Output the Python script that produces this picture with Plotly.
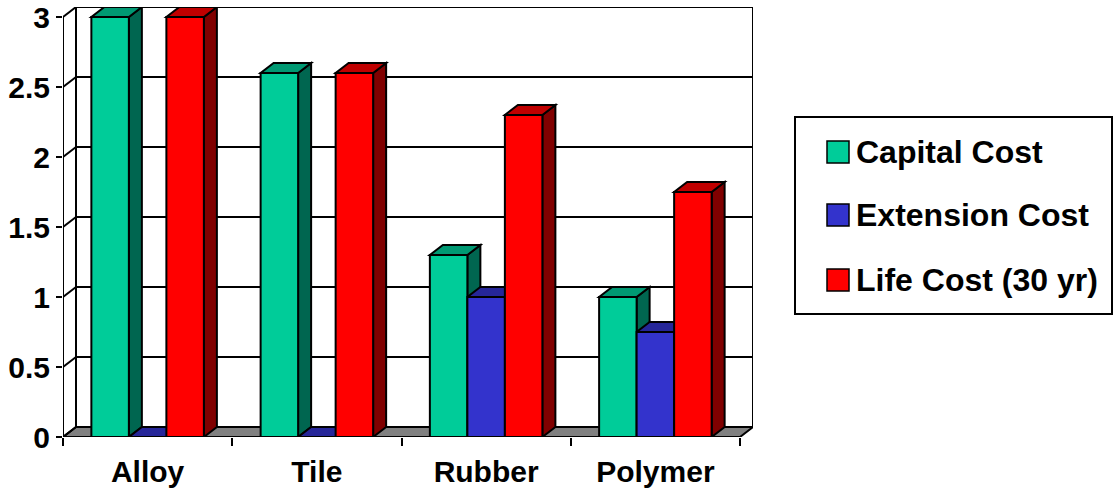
import plotly.graph_objects as go

# ---- data ----
categories = ["Alloy", "Tile", "Rubber", "Polymer"]
series_names = ["Capital Cost", "Extension Cost", "Life Cost (30 yr)"]
capital_cost = [3.0, 2.6, 1.3, 1.0]
extension_cost = [0.0, 0.0, 1.0, 0.75]
life_cost = [3.0, 2.6, 2.3, 1.75]
y_ticks = [0, 0.5, 1, 1.5, 2, 2.5, 3]

series_values = [capital_cost, extension_cost, life_cost]
front_colors = ["#00CC99", "#3333CC", "#FF0000"]
top_colors = ["#009973", "#262699", "#C00000"]
side_colors = ["#006650", "#1A1A66", "#800000"]

# ---- geometry (3D look) ----
W = 0.2216          # bar width (category units)
DX = 0.0768         # depth offset in x (category units)
DY = 0.0714         # depth offset in y (value units)
YMAX = 3.0
XL, XR = -0.5, len(categories) - 0.5

# figure pixel layout
FW, FH = 1114, 488
ML, MR, MT, MB = 63, 361, 7, 51
PW = FW - ML - MR
PH = FH - MT - MB

def px_x(p):
    return (p - ML) / PW

def px_y(p):
    return (FH - MB - p) / PH

LINE = dict(color="black", width=2)

shapes = []

def poly(pts, fill, line=LINE, xref="x", yref="y"):
    d = "M " + " L ".join(f"{x},{y}" for x, y in pts) + " Z"
    shapes.append(dict(type="path", path=d, xref=xref, yref=yref,
                       fillcolor=fill, line=line, layer="below"))

def seg(x0, y0, x1, y1):
    shapes.append(dict(type="line", x0=x0, y0=y0, x1=x1, y1=y1,
                       xref="x", yref="y", line=LINE, layer="below"))

# floor
poly([(XL, 0), (XR, 0), (XR + DX, DY), (XL + DX, DY)], "#808080")
# back wall grid lines
for v in y_ticks[1:-1]:
    seg(XL + DX, v + DY, XR + DX, v + DY)
# back wall frame
seg(XL + DX, DY, XL + DX, YMAX + DY)
seg(XL + DX, YMAX + DY, XR + DX, YMAX + DY)
seg(XR + DX, DY, XR + DX, YMAX + DY)
# front value axis line
seg(XL, 0, XL, YMAX)
# diagonals from front ticks to back wall
for v in y_ticks:
    seg(XL, v, XL + DX, v + DY)

# bar side and top faces (painter's order: left to right)
for j in range(len(categories)):
    for i, vals in enumerate(series_values):
        v = vals[j]
        left = j - 1.5 * W + i * W
        right = left + W
        poly([(right, 0), (right + DX, DY), (right + DX, v + DY), (right, v)], side_colors[i])
        poly([(left, v), (right, v), (right + DX, v + DY), (left + DX, v + DY)], top_colors[i])

fig = go.Figure()
for i, vals in enumerate(series_values):
    fig.add_trace(go.Bar(
        x=categories, y=vals, name=series_names[i],
        width=W, offset=-1.5 * W + i * W,
        marker=dict(color=front_colors[i], line=dict(color="black", width=2)),
        showlegend=False,
    ))

# ---- manual legend ----
FONT = "Liberation Sans, Arial, sans-serif"
annotations = []
poly([(px_x(795), px_y(117)), (px_x(1112), px_y(117)), (px_x(1112), px_y(314)), (px_x(795), px_y(314))],
     "white", line=dict(color="black", width=2), xref="paper", yref="paper")
legend_rows = [152, 215, 280]
for i, name in enumerate(series_names):
    cy = legend_rows[i]
    poly([(px_x(827), px_y(cy - 11)), (px_x(849), px_y(cy - 11)),
          (px_x(849), px_y(cy + 11)), (px_x(827), px_y(cy + 11))],
         front_colors[i], line=dict(color="black", width=1.5), xref="paper", yref="paper")
    annotations.append(dict(x=px_x(854), y=px_y(cy), xref="paper", yref="paper",
                            text=name, showarrow=False, xanchor="left", yanchor="middle",
                            font=dict(family=FONT, size=32, color="black", weight="bold")))

fig.update_layout(
    width=FW, height=FH,
    margin=dict(l=ML, r=MR, t=MT, b=MB, autoexpand=False),
    paper_bgcolor="white", plot_bgcolor="white",
    barmode="overlay",
    shapes=shapes,
    annotations=annotations,
    showlegend=False,
    hovermode=False,
    xaxis=dict(type="category", categoryorder="array", categoryarray=categories,
               range=[XL, XR + DX], showgrid=False, zeroline=False, showline=False,
               automargin=False, fixedrange=True,
               tickson="boundaries", ticks="outside", ticklen=8, tickwidth=2, tickcolor="black",
               ticklabelstandoff=14,
               tickfont=dict(family=FONT, size=30, color="black", weight="bold")),
    yaxis=dict(range=[0, YMAX + DY], tickvals=y_ticks, ticktext=[f"{t:g}" for t in y_ticks],
               showgrid=False, zeroline=False, showline=False, automargin=False, fixedrange=True,
               ticks="outside", ticklen=6, tickwidth=2, tickcolor="black",
               tickfont=dict(family=FONT, size=30, color="black", weight="bold")),
)

fig.write_html("out.html", config={"displayModeBar": False},
               post_script="document.body.style.margin='0';document.body.style.padding='0';")
